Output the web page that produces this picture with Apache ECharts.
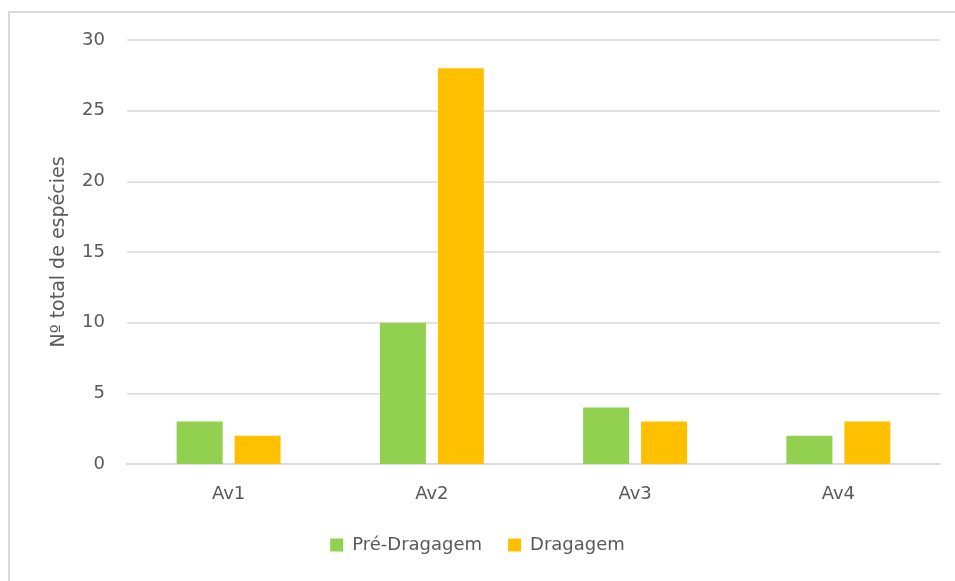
<!DOCTYPE html>
<html>
<head>
<meta charset="utf-8">
<script src="https://cdn.jsdelivr.net/npm/echarts@6/dist/echarts.min.js"></script>
<style>
  html, body { margin: 0; padding: 0; background: #fff; overflow: hidden; width: 955px; height: 581px; }
  #frame { position: absolute; left: 8px; top: 11px; width: 947px; height: 570px; border-top: 2px solid #d9d9d9; border-left: 2px solid #d9d9d9; box-sizing: border-box; }
  #chart { position: absolute; left: 0; top: 0; width: 955px; height: 581px; }
</style>
</head>
<body>
<div id="frame"></div>
<div id="chart"></div>
<script>
var categories = ['Av1', 'Av2', 'Av3', 'Av4'];
var preDragagem = [3, 10, 4, 2];
var dragagem = [2, 28, 3, 3];
var seriesNames = ['Pré-Dragagem', 'Dragagem'];

var chart = echarts.init(document.getElementById('chart'));
var txt = '#595959';
var font = 'DejaVu Sans';
chart.setOption({
    animation: false,
    textStyle: { fontFamily: font },
    color: ['#92D050', '#FFC000'],
    grid: { left: 127, right: 15, top: 40, bottom: 117 },
    legend: {
        bottom: 22,
        left: 'center',
        itemWidth: 13,
        itemHeight: 13,
        itemGap: 26,
        icon: 'rect',
        textStyle: { color: txt, fontSize: 18, fontFamily: font, padding: [0, 0, 0, 4] },
        data: seriesNames
    },
    xAxis: {
        type: 'category',
        data: categories,
        axisLine: { lineStyle: { color: '#d9d9d9', width: 2 } },
        axisTick: { show: false },
        axisLabel: { color: txt, fontSize: 18, margin: 21 }
    },
    yAxis: {
        type: 'value',
        min: 0,
        max: 30,
        interval: 5,
        name: 'Nº total de espécies',
        nameLocation: 'middle',
        nameGap: 58,
        nameTextStyle: { color: txt, fontSize: 19 },
        axisLabel: { color: txt, fontSize: 18, margin: 22 },
        splitLine: { lineStyle: { color: '#d9d9d9', width: 1.5 } }
    },
    series: [
        { name: seriesNames[0], type: 'bar', data: preDragagem, barWidth: 46, barGap: '26%' },
        { name: seriesNames[1], type: 'bar', data: dragagem, barWidth: 46, barGap: '26%' }
    ]
});
</script>
</body>
</html>
